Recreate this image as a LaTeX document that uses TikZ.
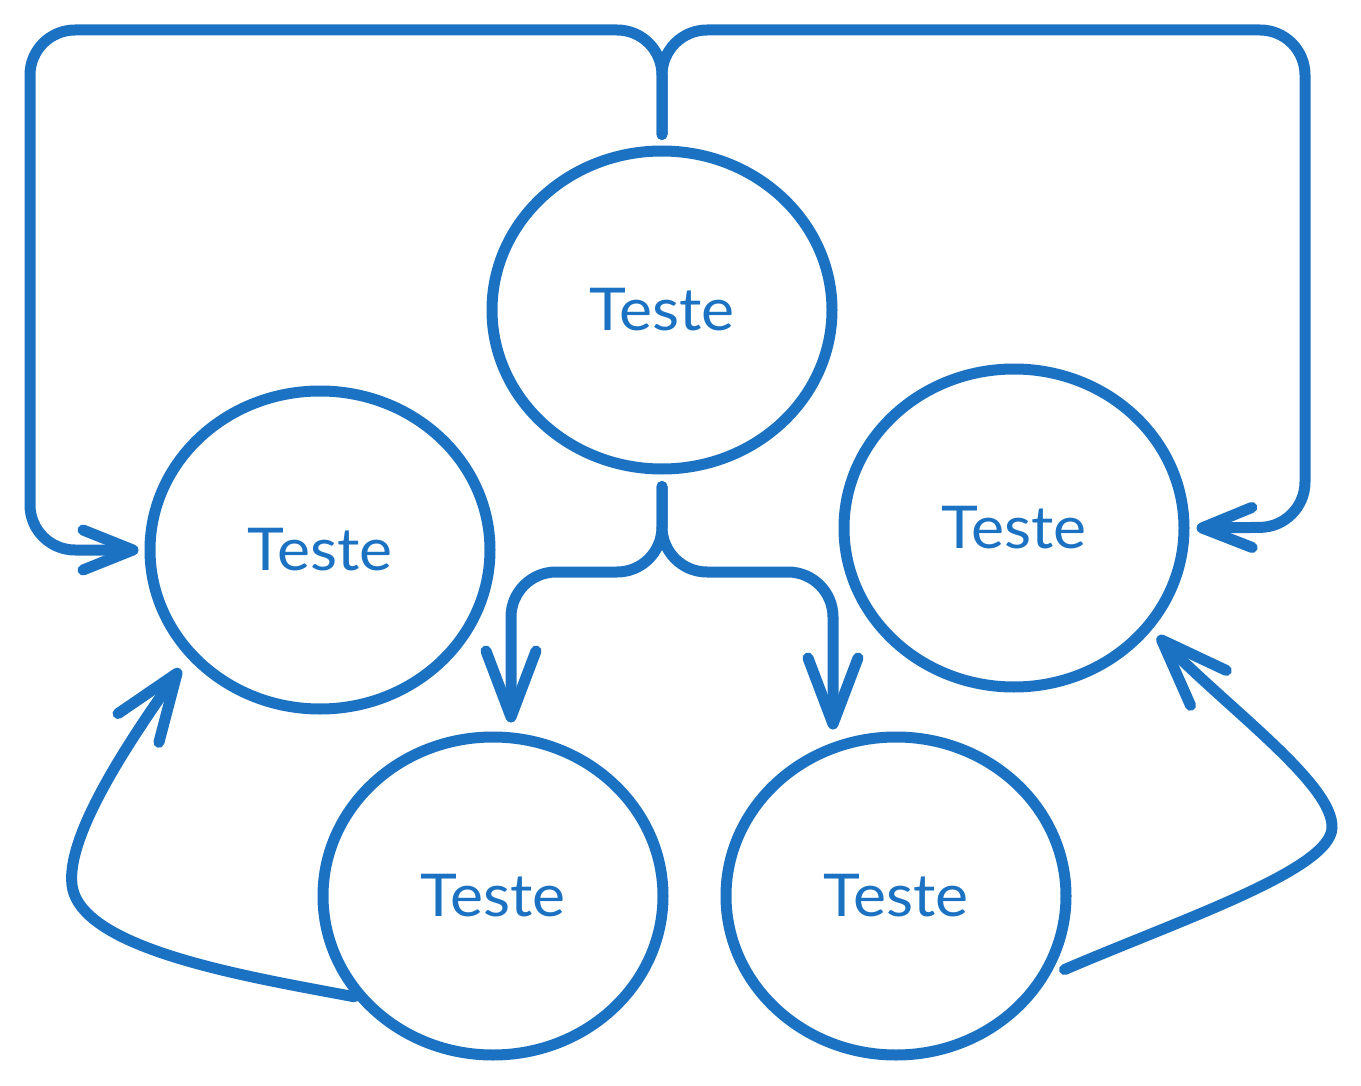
\documentclass[tikz,border=0pt]{standalone}
\usepackage{fontspec}
\setmainfont[FakeStretch=1.06]{Lato}
\usetikzlibrary{arrows.meta,shapes.geometric}
\definecolor{blu}{RGB}{27,114,194}
\begin{document}
\begin{tikzpicture}[x=1pt,y=-1pt,
  state/.style={ellipse,draw=blu,line width=11pt,minimum width=340pt,minimum height=318pt,inner sep=0pt,text=blu,font=\fontsize{59}{64}\selectfont},
  conn/.style={draw=blu,line width=11pt,line cap=round,line join=round},
  hbarb/.style={-{Straight Barb[length=50pt,width=40pt,round]}},
  vbarb/.style={-{Straight Barb[length=66pt,width=50pt,round]}},
  cbarb/.style={-{Straight Barb[length=67pt,width=50pt,round]}}]
\useasboundingbox (0,0) rectangle (1361,1086);
\node[state] (top) at (662,310) {Teste};
\node[state] (left) at (320,550) {Teste};
\node[state] (right) at (1014,528) {Teste};
\node[state] (bl) at (493,896) {Teste};
\node[state] (br) at (896,896) {Teste};
% top loops
\draw[conn,rounded corners=45pt,hbarb] ([yshift=11pt]top.north) -- (662,30) -- (30,30) -- (30,550) -- ([xshift=-6pt]left.west);
\draw[conn,rounded corners=45pt,hbarb] ([yshift=11pt]top.north) -- (662,30) -- (1305,30) -- (1305,527) -- ([xshift=7pt]right.east);
% bottom split
\draw[conn,rounded corners=45pt,vbarb] ([yshift=-12pt]top.south) -- (662,572) -- (511,572) -- ([shift={(18pt,9pt)}]bl.north);
\draw[conn,rounded corners=45pt,vbarb] ([yshift=-12pt]top.south) -- (662,572) -- (833,572) -- ([shift={(-63pt,2pt)}]br.north);
% curved
\draw[conn,cbarb] (bl.216) .. controls (250,977) and (80,950) .. (72,885) .. controls (66,835) and (130,740) .. ([shift={(-9pt,-9pt)}]left.220);
\draw[conn,cbarb] ([shift={(10pt,-3pt)}]br.-24) .. controls (1180,920) and (1330,870) .. (1332,828) .. controls (1334,785) and (1230,710) .. ([shift={(7pt,-5pt)}]right.-37);
\end{tikzpicture}
\end{document}
